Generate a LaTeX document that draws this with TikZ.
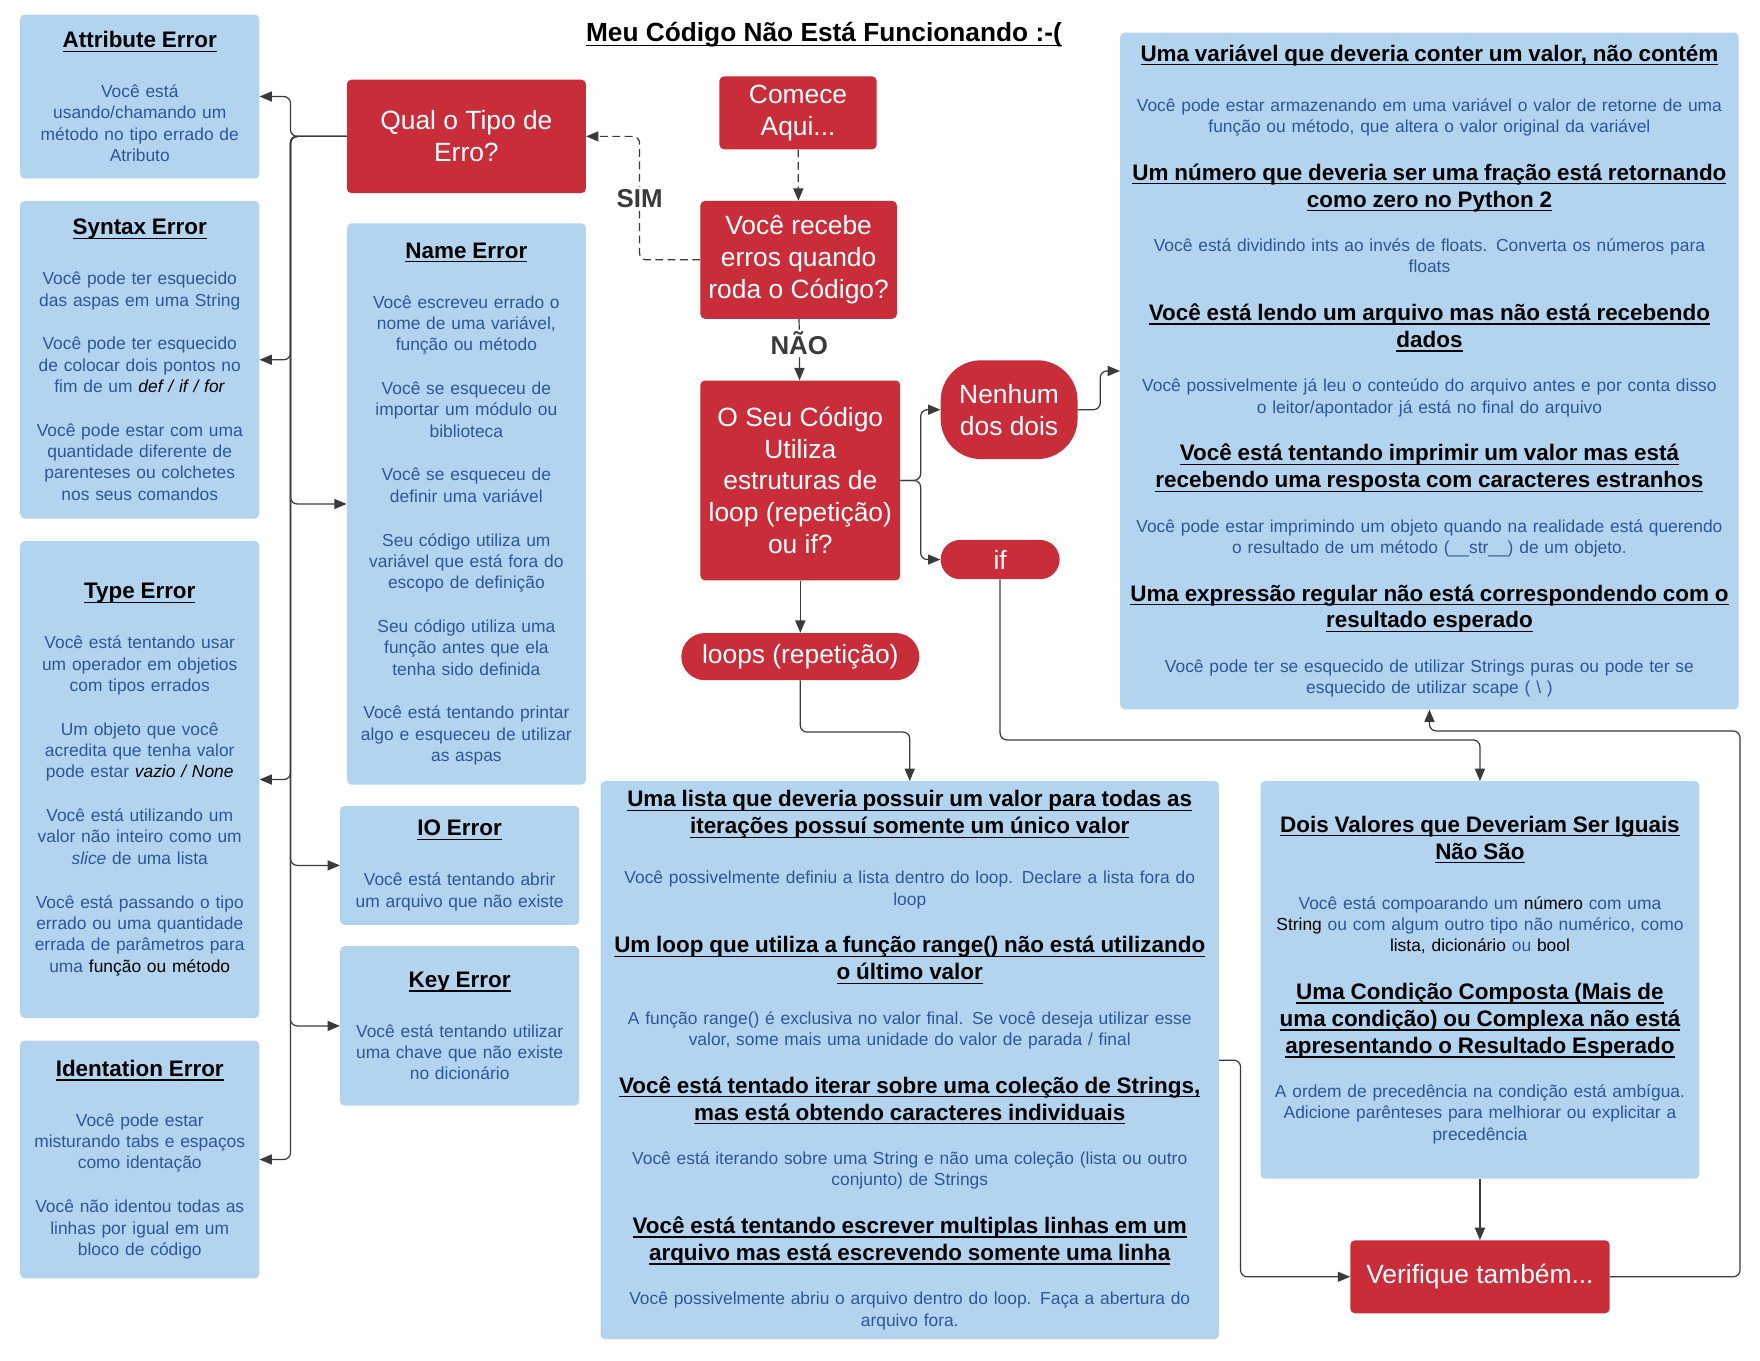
\documentclass[tikz,border=0pt]{standalone}
\usepackage{fontspec}
\setmainfont{Liberation Sans}
\usetikzlibrary{arrows.meta,positioning}

\definecolor{boxblue}{HTML}{B3D4EF}
\definecolor{txtblue}{HTML}{2B5797}
\definecolor{errred}{HTML}{C92D39}
\definecolor{lineg}{HTML}{3A3A3A}

\newsavebox{\ulbox}
\newcommand{\ul}[1]{\leavevmode\sbox{\ulbox}{#1}\rlap{\rule[-3.8pt]{\wd\ulbox}{1.2pt}}\usebox{\ulbox}}
\newcommand{\bodyfont}{\fontsize{15.5}{19}\selectfont}
\newcommand{\redfont}{\fontsize{23.5}{28.5}\selectfont}
\newcommand{\hd}[2][25.5pt]{{\fontsize{20}{24}\selectfont\bfseries\leavevmode\color{black}#2\par}\vspace{#1}}
\newcommand{\gap}{\par\vspace{18.5pt}}
\newcommand{\blk}[1]{{\color{black}#1}}

\tikzset{
  infobox/.style={rectangle, rounded corners=4pt, fill=boxblue, text=txtblue, align=center,
    inner xsep=2pt, inner ysep=0pt, font=\bodyfont},
  redbox/.style={rectangle, rounded corners=4pt, fill=errred, text=white, align=center,
    inner sep=2pt, font=\redfont},
  arr/.style={draw=lineg, line width=1.1pt, rounded corners=6pt, -{Triangle[length=11pt,width=9pt]}},
  yesno/.style={fill=white, text=lineg, font=\fontsize{23}{26}\selectfont\bfseries, inner sep=2pt}
}

\begin{document}
\begin{tikzpicture}[x=1pt,y=1pt]
  \useasboundingbox (0,0) rectangle (1568,-1212);

  \node[font=\fontsize{23.4}{28}\selectfont\bfseries] (title) at (734,-31)
    {\ul{Meu Código Não Está Funcionando :-(}};

  % left column
  \node[infobox, text width=209, minimum height=146] (attr) at (124.5,-86)
    {\hd{\ul{Attribute Error}}
     Você está\\usando/chamando um\\método no tipo errado de\\Atributo};
  \node[infobox, text width=209, minimum height=283] (syntax) at (124.5,-320.5)
    {\hd{\ul{Syntax Error}}
     Você pode ter esquecido\\das aspas em uma String\\[20pt]
     Você pode ter esquecido\\de colocar dois pontos no\\fim de um \blk{\textit{def / if / for}}\\[20pt]
     Você pode estar com uma\\quantidade diferente de\\parenteses ou colchetes\\nos seus comandos};
  \node[infobox, text width=209, minimum height=425] (type) at (124.5,-694.5)
    {\hd{\ul{Type Error}}
     Você está tentando usar\\um operador em objetios\\com tipos errados\\[20pt]
     Um objeto que você\\acredita que tenha valor\\pode estar \blk{\textit{vazio / None}}\\[20pt]
     Você está utilizando um\\valor não inteiro como um\\\textit{slice} de uma lista\\[20pt]
     Você está passando o tipo\\errado ou uma quantidade\\errada de parâmetros para\\uma \blk{função ou método}};
  \node[infobox, text width=209, minimum height=212] (ident) at (124.5,-1033)
    {\hd{\ul{Identation Error}}
     Você pode estar\\misturando tabs e espaços\\como identação\\[20pt]
     Você não identou todas as\\linhas por igual em um\\bloco de código};

  % second column
  \node[redbox, minimum width=213, minimum height=101] (qual) at (415.5,-121.5) {Qual o Tipo de\\Erro?};
  \node[infobox, text width=209, minimum height=500] (name) at (415.5,-449)
    {\hd{\ul{Name Error}}
     Você escreveu errado o\\nome de uma variável,\\função ou método\\[20pt]
     Você se esqueceu de\\importar um módulo ou\\biblioteca\\[20pt]
     Você se esqueceu de\\definir uma variável\\[20pt]
     Seu código utiliza um\\variável que está fora do\\escopo de definição\\[20pt]
     Seu código utiliza uma\\função antes que ela\\tenha sido definida\\[20pt]
     Você está tentando printar\\algo e esqueceu de utilizar\\as aspas};
  \node[infobox, text width=209, minimum height=106] (io) at (409.5,-771)
    {\hd{\ul{IO Error}}
     Você está tentando abrir\\um arquivo que não existe};
  \node[infobox, text width=209, minimum height=142] (key) at (409.5,-914)
    {\hd{\ul{Key Error}}
     Você está tentando utilizar\\uma chave que não existe\\no dicionário};

  % decisions
  \node[redbox, minimum width=140, minimum height=65] (comece) at (711,-100.5) {Comece\\Aqui...};
  \node[redbox, minimum width=175, minimum height=105] (recebe) at (711.5,-231.5) {Você recebe\\erros quando\\roda o Código?};
  \node[redbox, minimum width=178, minimum height=178] (oseu) at (713,-428)
    {O Seu Código\\Utiliza\\estruturas de\\loop (repetição)\\ou if?};
  \node[redbox, rounded corners=36pt, minimum width=122, minimum height=88] (nenhum) at (899,-365) {Nenhum\\dos dois};
  \node[redbox, rounded corners=17.5pt, minimum width=106, minimum height=35, inner sep=0pt] (ifn) at (891,-498.5) {if};
  \node[redbox, rounded corners=21pt, minimum width=212, minimum height=42, inner sep=0pt] (loops) at (713,-585) {loops (repetição)};

  % right side
  \node[infobox, text width=547, minimum height=603] (rbox) at (1273.5,-330.5)
    {\hd{\ul{Uma variável que deveria conter um valor, não contém}}
     Você pode estar armazenando em uma variável o valor de retorne de uma\\função ou método, que altera o valor original da variável\gap
     \hd[20.5pt]{\ul{Um número que deveria ser uma fração está retornando}\\\ul{como zero no Python 2}}
     Você está dividindo ints ao invés de floats. Converta os números para\\floats\gap
     \hd[20.5pt]{\ul{Você está lendo um arquivo mas não está recebendo}\\\ul{dados}}
     Você possivelmente já leu o conteúdo do arquivo antes e por conta disso\\o leitor/apontador já está no final do arquivo\gap
     \hd[20.5pt]{\ul{Você está tentando imprimir um valor mas está}\\\ul{recebendo uma resposta com caracteres estranhos}}
     Você pode estar imprimindo um objeto quando na realidade está querendo\\o resultado de um método (\_\_str\_\_) de um objeto.\gap
     \hd[20.5pt]{\ul{Uma expressão regular não está correspondendo com o}\\\ul{resultado esperado}}
     Você pode ter se esquecido de utilizar Strings puras ou pode ter se\\esquecido de utilizar scape ( \textbackslash{} )};
  \node[infobox, text width=547, minimum height=497] (lista) at (810.5,-944.5)
    {\hd{\ul{Uma lista que deveria possuir um valor para todas as}\\\ul{iterações possuí somente um único valor}}
     Você possivelmente definiu a lista dentro do loop. Declare a lista fora do\\loop\gap
     \hd[20.5pt]{\ul{Um loop que utiliza a função range() não está utilizando}\\\ul{o último valor}}
     A função range() é exclusiva no valor final. Se você deseja utilizar esse\\valor, some mais uma unidade do valor de parada / final\gap
     \hd[20.5pt]{\ul{Você está tentado iterar sobre uma coleção de Strings,}\\\ul{mas está obtendo caracteres individuais}}
     Você está iterando sobre uma String e não uma coleção (lista ou outro\\conjunto) de Strings\gap
     \hd[20.5pt]{\ul{Você está tentando escrever multiplas linhas em um}\\\ul{arquivo mas está escrevendo somente uma linha}}
     Você possivelmente abriu o arquivo dentro do loop. Faça a abertura do\\arquivo fora.};
  \node[infobox, text width=387, minimum height=354] (dois) at (1318.5,-873)
    {\hd{\ul{Dois Valores que Deveriam Ser Iguais}\\\ul{Não São}}
     Você está compoarando um \blk{número} com uma\\\blk{String} ou com algum outro tipo não numérico, como\\\blk{lista, dicionário} ou \blk{bool}\gap
     \hd[20.5pt]{\ul{Uma Condição Composta (Mais de}\\\ul{uma condição) ou Complexa não está}\\\ul{apresentando o Resultado Esperado}}
     A ordem de precedência na condição está ambígua.\\Adicione parênteses para melhiorar ou explicitar a\\precedência};
  \node[redbox, minimum width=231, minimum height=65] (verif) at (1318.5,-1137.5) {Verifique também...};

  % connectors
  \foreach \t in {attr,syntax,type,ident}
    \draw[arr] (qual.west) -- ++(-50,0) |- (\t.east);
  \foreach \t in {name,io,key}
    \draw[arr] (qual.west) -- ++(-50,0) |- (\t.west);

  \draw[arr, dash pattern=on 7pt off 4pt] (comece) -- (recebe);
  \draw[arr, dash pattern=on 7pt off 4pt] (recebe.west) -- ++(-54,0) |- (qual.east)
    node[yesno, pos=0.25] {SIM};
  \draw[arr] (recebe) -- (oseu) node[yesno, pos=0.4] {NÃO};

  \draw[arr] (oseu.east) -- ++(18,0) |- (nenhum.west);
  \draw[arr] (oseu.east) -- ++(18,0) |- (ifn.west);
  \draw[arr] (oseu) -- (loops);
  \draw[arr] (loops.south) -- ++(0,-46) -| (lista.north);
  \draw[arr] (ifn.south) -- ++(0,-143) -| (dois.north);
  \draw[arr] (nenhum.east) -- ++(20,0) |- (rbox.west);
  \draw[arr] (dois) -- (verif);
  \draw[arr] (lista.east) -- ++(19,0) |- (verif.west);
  \draw[arr] (verif.east) -- ++(116,0) |- ([yshift=-19pt]rbox.south) -- (rbox.south);
\end{tikzpicture}
\end{document}
